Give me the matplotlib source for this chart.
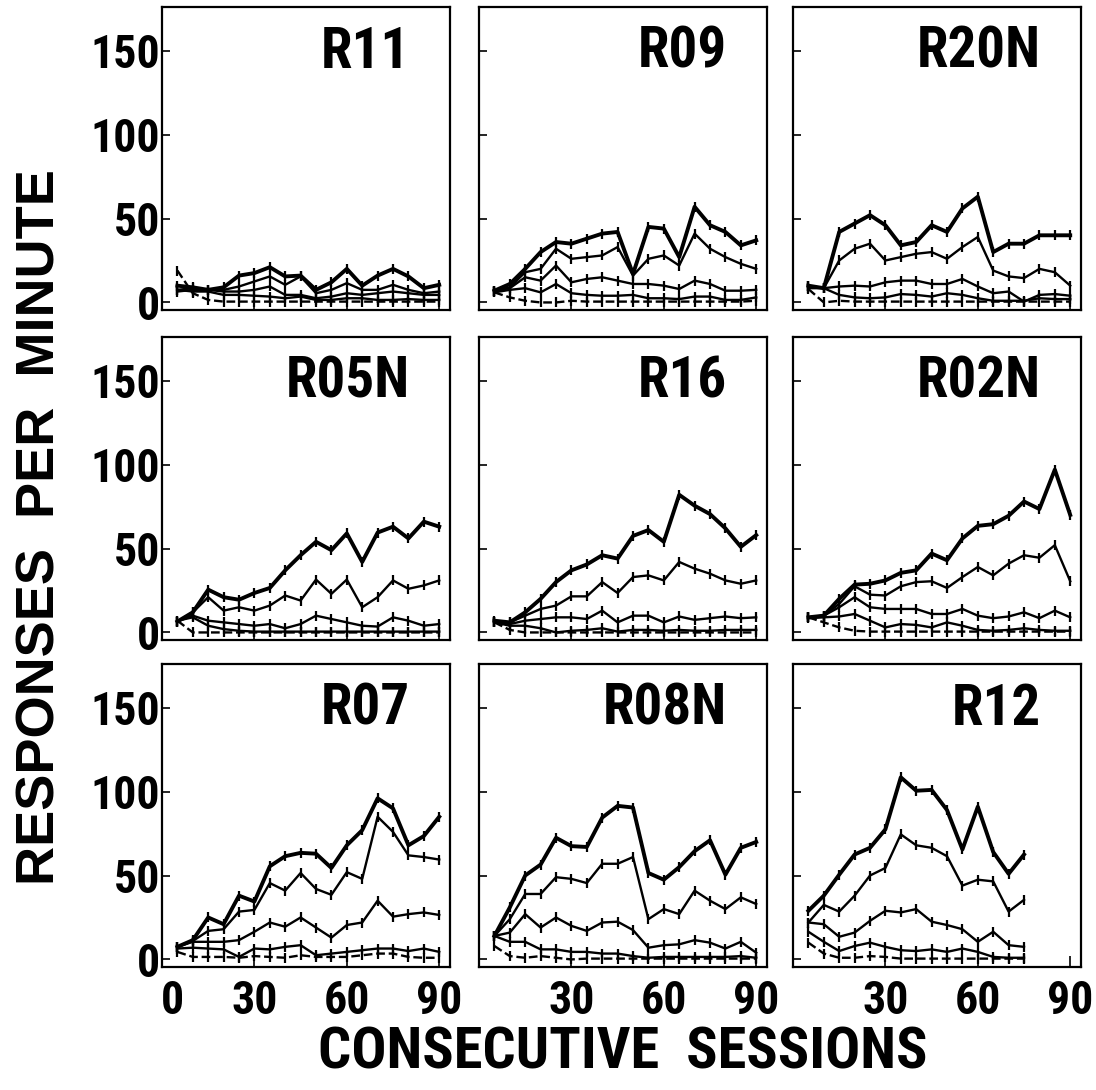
import matplotlib
matplotlib.use("Agg")
import matplotlib.pyplot as plt
from matplotlib import font_manager
from matplotlib.transforms import ScaledTranslation

names = {f.name for f in font_manager.fontManager.ttflist}
cands = ['Nimbus Sans Narrow', 'Liberation Sans Narrow', 'Arial Narrow', 'Roboto Condensed',
         'Archivo Narrow', 'PT Sans Narrow', 'Encode Sans Condensed', 'IBM Plex Sans Condensed']
NARROW = [n for n in cands if n in names][:1] + ['Liberation Sans', 'DejaVu Sans']
WIDE = ['Liberation Sans', 'DejaVu Sans']

sessions = [5, 10, 15, 20, 25, 30, 35, 40, 45, 50, 55, 60, 65, 70, 75, 80, 85, 90]
sessions_r12 = sessions[:15]

subjects = ["R11", "R09", "R20N", "R05N", "R16", "R02N", "R07", "R08N", "R12"]

r11 = [
    [10, 9, 7.5, 9, 16, 17.5, 21, 15.5, 16, 7.5, 12, 20, 10, 16, 20, 15.5, 8.5, 10.5],
    [7.5, 8.5, 7.5, 7.5, 9.5, 12.5, 15.5, 10.5, 15.5, 5.5, 7.5, 11.5, 7.5, 7.5, 10.5, 7.5, 5.5, 6.5],
    [6.5, 7.5, 7.5, 6.5, 6.5, 7.5, 9.5, 4.5, 4.5, 2.5, 3.5, 5.5, 4.5, 5.5, 6.5, 5.5, 4.5, 4.5],
    [7.5, 6.5, 6.5, 4.5, 4.5, 4, 3.5, 2.5, 3.5, 1.5, 1.5, 2.5, 2.5, 1.5, 1.5, 2, 1.5, 1.5],
    [19, 5.5, 1.5, 0.5, 0.5, 0.5, 0.5, 0.5, 0.5, 0.5, 0.5, 0.5, 0.5, 0.5, 0.5, 0.5, 0.5, 0.5],
]
r09 = [
    [7, 11, 20, 30, 36, 35, 38, 41, 42, 17, 45, 44, 27, 57, 46, 42, 34, 37],
    [7, 9, 18, 20, 32, 26, 27, 28, 33, 16, 26, 28, 22, 41, 32, 27, 23, 20],
    [7, 8.5, 15, 13, 22, 12, 14, 15, 13, 11, 11, 10, 8, 13, 11, 7, 7, 7.5],
    [6, 7.5, 8.5, 6, 11, 5.5, 4.5, 4, 4, 4.5, 2.5, 2.5, 2, 3.5, 3.5, 1.5, 1.5, 3],
    [6, 3, 1, 0, 0, 1, 0.5, 0.5, 0.5, 0.5, 0.5, 0.5, 0.5, 0.5, 0.5, 0.5, 0.5, 1],
]
r20n = [
    [10, 8.5, 42, 47, 52, 46, 34, 36, 46, 42, 56, 63, 30, 35, 35, 40, 40, 40],
    [9.5, 8.5, 25, 32, 35, 25, 27, 29, 30, 26, 33, 39, 19, 15.5, 14.5, 20, 18, 10],
    [9.5, 8.5, 9.5, 10, 9.5, 12, 13, 13, 11, 11, 14, 9.5, 5.5, 6.5, 0.5, 4.5, 5, 4],
    [8.5, 8.5, 4.5, 3, 2.5, 3, 5, 4.5, 3.5, 5.5, 4.5, 2.5, 1, 1, 1, 2.5, 2, 2],
    [8, 0, 1, 0.5, 0.5, 0.5, 0.5, 0.5, 0.5, 0.5, 0.5, 0.5, 0.5, 0.5, 0.5, 0.5, 0.5, 0.5],
]
r05n = [
    [6.5, 12, 25.5, 21, 19.5, 23.5, 26.5, 37, 46, 54, 49, 59, 42, 59.5, 63, 56, 66, 63],
    [6.5, 12, 21, 13, 15, 13, 16, 22, 19, 31.5, 23, 31.5, 15, 21, 31, 26, 28, 31],
    [6.5, 10, 7, 6, 5, 4, 5, 2.5, 5, 10, 8, 6, 4, 3.5, 9, 7, 4, 5],
    [7, 9, 4, 2, 1, 0.5, 0.5, 0.5, 0.5, 0.5, 0.5, 0.5, 0.5, 0.5, 0.5, 0.5, 0.5, 0.5],
    [7, 0, 0, 0, 0, 0, 0, 0, 0, 0, 0, 0, 0, 0, 0, 0, 0, 0],
]
r16 = [
    [7, 6, 12, 20, 30, 37, 40.5, 46, 44, 57.5, 61, 54, 82, 75.5, 70.5, 62, 51, 58],
    [6, 6, 10, 14, 16, 21.5, 21.5, 30, 23.5, 33, 34, 31, 42, 38, 35, 31, 29, 31],
    [6, 5, 7, 8, 9, 9, 8, 13, 6, 10, 10, 6, 9.5, 7.5, 8.5, 9.5, 8.5, 9],
    [6, 4, 4, 2.5, 0, 1, 1.5, 2.5, 0.5, 1.5, 1.5, 1, 1.5, 1, 1, 1.5, 1.5, 1.5],
    [6, 1.5, 0, 0, 0, 0, 0, 0, 0, 0, 0, 0, 0, 0, 0, 0, 0, 0],
]
r02n = [
    [9, 10, 20, 28.5, 29, 31, 35.5, 37, 47, 43, 56, 63.5, 64.5, 69.5, 78, 73.5, 97, 70],
    [9, 10, 17, 27.5, 22.5, 22, 27.5, 30, 30.5, 26.5, 33, 39, 34, 41, 46, 44.5, 52, 30.5],
    [9, 10, 15, 21, 15, 14, 14, 14, 11, 11, 14, 10, 8.5, 9.5, 12, 8.5, 13, 9],
    [8.5, 9, 9.5, 11, 7, 3, 5, 4.5, 3, 6, 4, 1.5, 1, 1.5, 2.5, 1.5, 1, 1],
    [9, 6, 3, 1, 0.5, 0.5, 0.5, 0.5, 0.5, 0.5, 0.5, 0.5, 0.5, 0.5, 0.5, 0.5, 0.5, 0.5],
]
r07 = [
    [7.5, 11.5, 25, 21, 38, 34.5, 55.5, 61.5, 63.5, 63, 54.5, 68, 77, 96, 90, 68, 73.5, 85],
    [7.5, 11, 17, 18, 28.5, 29.5, 45.5, 41, 51.5, 42, 38.5, 52, 48, 85, 76, 62, 61, 59.5],
    [7.5, 10.5, 10.5, 10.5, 11.5, 16.5, 22, 19.5, 25, 19, 13, 20.5, 22, 35, 25.5, 27, 28, 26.5],
    [6.5, 7, 6.5, 6, 1.5, 6.5, 6, 7.5, 8.5, 2.5, 3.5, 4.5, 5.5, 6.5, 6.5, 5, 6.5, 4.5],
    [4.5, 1.5, 1.5, 1.5, 1, 2, 1.5, 1, 2.5, 1.5, 1.5, 1.5, 2.5, 3.5, 3.5, 1.5, 1, 1],
]
r08n = [
    [14, 31, 50, 56.5, 72.5, 67.5, 67, 84.5, 91.5, 90.5, 51.5, 47.5, 55, 64.5, 71, 50.5, 66.5, 70],
    [14, 24, 39, 39, 49, 48, 45.5, 57, 57, 61, 24, 30, 27, 41, 35, 30, 37, 33],
    [14, 16, 27, 19, 25, 20, 17, 22, 22.5, 17.5, 7, 8.5, 9, 11.5, 10, 6.5, 10.5, 4],
    [14, 10.5, 10.5, 6, 6, 4.5, 4.5, 3.5, 3.5, 2, 1, 1.5, 1.5, 1.5, 1.5, 1.5, 2, 1],
    [8, 2, 1, 2, 1, 0, 0.5, 0.5, 0.5, 0.5, 0.5, 0.5, 0.5, 0.5, 0.5, 0.5, 0.5, 0.5],
]
r12 = [
    [29, 38, 50.5, 62.5, 66.5, 77.5, 108.5, 100.5, 101, 89, 65.5, 91, 64, 51, 62.5],
    [22, 32.5, 28.5, 38, 50, 54.5, 74.5, 68, 66.5, 61.5, 44, 47.5, 46.5, 28.5, 35.5],
    [22, 21, 13.5, 16, 23, 29, 28, 30, 22.5, 20.5, 18, 10.5, 16.5, 8.5, 7.5],
    [16.5, 10.5, 5, 8, 10, 7.5, 5.5, 5, 6, 4.5, 6.5, 4.5, 1.5, 1, 1],
    [10, 3.5, 1, 1, 2, 1.5, 0.5, 0.5, 0.5, 0.5, 0.5, 0.5, 0.5, 0.5, 0.5],
]

panel_data = [r11, r09, r20n, r05n, r16, r02n, r07, r08n, r12]
panel_x = [sessions] * 8 + [sessions_r12]

y_ticks = [0, 50, 100, 150]
x_ticks = [0, 30, 60, 90]

fig = plt.figure(figsize=(10.96, 10.90), dpi=100)

lefts = [162 / 1096, 479 / 1096, 793 / 1096]
width = 288 / 1096
bottoms = [1 - 310 / 1090, 1 - 640 / 1090, 1 - 967 / 1090]
height = 303 / 1090

W = 'bold'

for i, (name, data, xs) in enumerate(zip(subjects, panel_data, panel_x)):
    r, c = divmod(i, 3)
    ax = fig.add_axes([lefts[c], bottoms[r], width, height])
    for k, ys in enumerate(data):
        lw = 2.8 if k == 0 else 1.7
        ls = '--' if k == 4 else '-'
        ax.plot(xs, ys, color='black', lw=lw, ls=ls, marker='|', ms=7, mew=1.6,
                solid_joinstyle='round')
    ax.set_xlim(0, 93.5)
    ax.set_ylim(-4.5, 176)
    ax.set_yticks(y_ticks)
    ax.set_xticks(x_ticks)
    ax.tick_params(axis='y', direction='in', length=6, width=1.2, pad=1.5)
    ax.tick_params(axis='x', direction='in', length=8, width=1.2, pad=9)
    for s in ax.spines.values():
        s.set_linewidth(1.6)
    if c == 0:
        ax.set_yticklabels([str(v) for v in y_ticks], family=NARROW, fontsize=33,
                           weight=W)
    else:
        ax.set_yticklabels([])
    if r == 2:
        labs = [str(v) for v in x_ticks]
        if c != 0:
            labs[0] = ''
        tl = ax.set_xticklabels(labs, family=NARROW, fontsize=33, weight=W)
        tl[0].set_transform(tl[0].get_transform() +
                            ScaledTranslation(10 / 100, 0, fig.dpi_scale_trans))
    else:
        ax.set_xticklabels([])
    ax.text(0.86, 0.85, name, transform=ax.transAxes, ha='right', va='center',
            family=NARROW, fontsize=41, weight=W)

fig.text(0.037, 0.516, "RESPONSES  PER  MINUTE", rotation=90, ha='center', va='center',
         family=WIDE, fontsize=39, weight='bold')
fig.text(0.568, 0.034, "CONSECUTIVE  SESSIONS", ha='center', va='center',
         family=NARROW, fontsize=42, weight=W)

fig.savefig("out.png", dpi=100, facecolor='white')
